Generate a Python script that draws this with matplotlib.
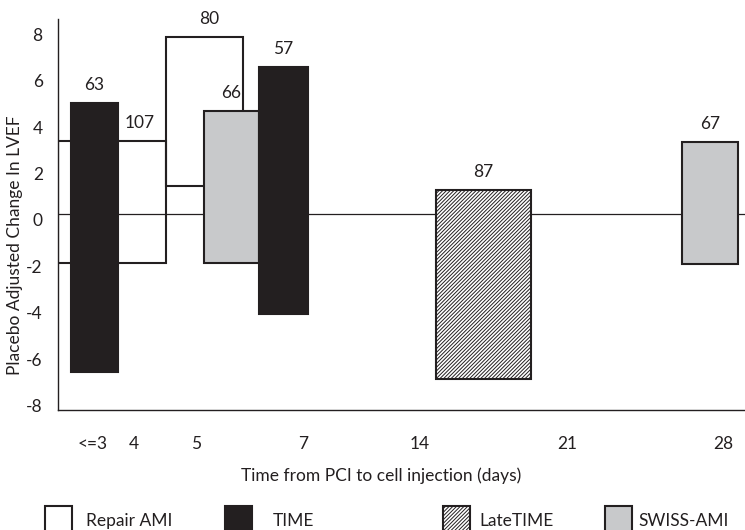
import matplotlib
matplotlib.use("Agg")
import matplotlib.pyplot as plt
import matplotlib.transforms as mtransforms
from matplotlib.patches import Rectangle

plt.rcParams["font.family"] = ["Lato", "DejaVu Sans"]
plt.rcParams["hatch.linewidth"] = 0.7
plt.rcParams["hatch.color"] = "#333333"

# x positions are in an arbitrary layout unit (the axis is not linear in days)
tick_pos = [3.5, 7.6, 13.8, 24.5, 36.2, 50.9, 66.5]
tick_labels = ["<=3", "4", "5", "7", "14", "21", "28"]
y_ticks = [-8, -6, -4, -2, 0, 2, 4, 6, 8]

# Repair AMI (open boxes)
repair_left = [0.0, 10.8]
repair_right = [10.8, 18.5]
repair_low = [-2.1, 1.2]
repair_high = [3.15, 7.63]
repair_n = ["107", "80"]
repair_label_x = [8.2, 15.1]

# TIME
time_left = [1.3, 20.1]
time_right = [6.0, 25.0]
time_low = [-6.8, -4.3]
time_high = [4.78, 6.34]
time_n = ["63", "57"]

# LateTIME
late_left = [37.8]
late_right = [47.3]
late_low = [-7.1]
late_high = [1.03]
late_n = ["87"]

# SWISS-AMI
swiss_left = [14.6, 62.4]
swiss_right = [20.1, 68.0]
swiss_low = [-2.1, -2.15]
swiss_high = [4.45, 3.1]
swiss_n = ["66", "67"]

black = "#231f20"
grey = "#c8c9cb"
fs = 12.5

fig = plt.figure(figsize=(7.45, 5.3), dpi=100)
ax = fig.add_axes([58/745, 1 - 410/530, 1 - 58/745, (410 - 19)/530])
ax.set_xlim(0, 68.7)
ax.set_ylim(-8.45, 8.4)

ax.axhline(0, color=black, lw=0.9, zorder=1)


def draw(left, right, low, high, face, hatch=None, z=3):
    w = [r - l for l, r in zip(left, right)]
    h = [hi - lo for lo, hi in zip(low, high)]
    ax.bar(left, h, width=w, bottom=low, align="edge", facecolor=face,
           edgecolor=black, linewidth=1.5, hatch=hatch, zorder=z)


draw(repair_left, repair_right, repair_low, repair_high, "none", z=2)
draw(swiss_left, swiss_right, swiss_low, swiss_high, grey)
draw(time_left, time_right, time_low, time_high, black)
draw(late_left, late_right, late_low, late_high, "white", hatch="/////////")

lab_kw = dict(textcoords="offset points", ha="center", va="center",
              fontsize=fs, color=black)
for x, y, n in zip(repair_label_x, repair_high, repair_n):
    ax.annotate(n, (x, y), xytext=(0, 13), **lab_kw)
for group in [(time_left, time_right, time_high, time_n),
              (late_left, late_right, late_high, late_n),
              (swiss_left, swiss_right, swiss_high, swiss_n)]:
    for l, r, y, n in zip(*group):
        ax.annotate(n, ((l + r) / 2, y), xytext=(0, 13), **lab_kw)

for s in ["top", "right"]:
    ax.spines[s].set_visible(False)
ax.spines["left"].set_linewidth(1.0)
ax.spines["bottom"].set_linewidth(1.0)
ax.spines["left"].set_color(black)
ax.spines["bottom"].set_color(black)

ax.set_yticks(y_ticks)
ax.set_yticklabels([str(v) for v in y_ticks])
ax.set_xticks(tick_pos)
ax.set_xticklabels(tick_labels)
ax.tick_params(axis="y", length=0, pad=11, labelsize=fs, labelcolor=black)
ax.tick_params(axis="x", length=0, pad=19, labelsize=fs, labelcolor=black)
shift = mtransforms.ScaledTranslation(0, -6/100, fig.dpi_scale_trans)
for lbl in ax.get_yticklabels():
    lbl.set_transform(lbl.get_transform() + shift)

fig.text(381/745, 1 - 476/530, "Time from PCI to cell injection (days)",
         ha="center", va="center", fontsize=fs, color=black)
fig.text(15/745, 1 - 245/530, "Placebo Adjusted Change In LVEF",
         ha="center", va="center", rotation=90, fontsize=fs, color=black)

# legend drawn by hand along the bottom edge
leg_names = ["Repair AMI", "TIME", "LateTIME", "SWISS-AMI"]
leg_x = [45, 225, 443, 605]
leg_text_x = [86, 273, 479, 638]
leg_face = ["white", black, "white", grey]
leg_hatch = [None, None, "/////////", None]
for name, x, tx, fc, ht in zip(leg_names, leg_x, leg_text_x, leg_face, leg_hatch):
    fig.patches.append(Rectangle((x/745, 1 - 536/530), 27/745, 30/530,
                                 transform=fig.transFigure, facecolor=fc,
                                 edgecolor=black, linewidth=1.5, hatch=ht))
    fig.text(tx/745, 1 - 521/530, name, ha="left", va="center",
             fontsize=fs, color=black)

fig.savefig("out.png", dpi=100)
